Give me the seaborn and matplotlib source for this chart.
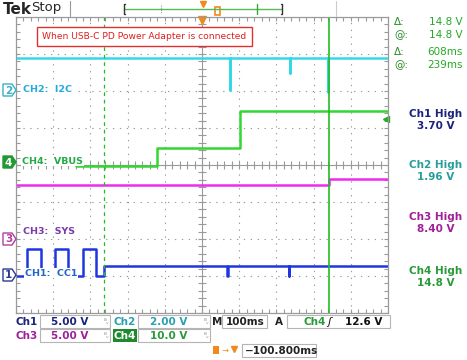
import matplotlib
matplotlib.use('Agg')
import matplotlib.pyplot as plt
import seaborn as sns
from matplotlib.patches import Rectangle, Polygon

# ─────────────────────────────────────────
# Captured traces (time in ms from screen centre, volts)
# ─────────────────────────────────────────
ch1_t = [-500, -470, -470, -433, -433, -395, -395, -360, -360, -320, -320,
         -285, -285, -263, -263, 66, 66, 69, 69, 234, 234, 234, 500]
ch1_v = [0, 0, 3.7, 3.7, 0, 0, 3.7, 3.7, 0, 0, 3.7,
         3.7, 0, 0, 1.4, 1.4, 0, 0, 1.4, 1.4, 0, 1.4, 1.4]

ch2_t = [-500, 75, 75, 75, 237, 237, 237, 339, 339, 339, 500]
ch2_v = [1.72, 1.72, 0, 1.72, 1.72, 0.9, 1.72, 1.72, -0.1, 1.72, 1.72]

ch3_t = [-500, 341, 341, 500]
ch3_v = [7.3, 7.3, 8.1, 8.1]

ch4_t = [-339, -121, -121, 102, 102, 500]
ch4_v = [0, 0, 5.0, 5.0, 14.8, 14.8]

cursor_t = [-263, 341]
trig_level = 12.6

# volts per division and ground offset (divisions)
scale = {'ch1': 5.0, 'ch2': 2.0, 'ch3': 5.0, 'ch4': 10.0}
offset = {'ch1': -3.0, 'ch2': 2.03, 'ch3': -2.0, 'ch4': -0.03}

meas_labels = ['Ch1 High', 'Ch2 High', 'Ch3 High', 'Ch4 High']
meas_values = ['3.70 V', '1.96 V', '8.40 V', '14.8 V']

C1, C2, C3, C4 = '#1f35e0', '#35d8e8', '#ee2aee', '#33d633'
grid_col = '#9a9a9a'

sns.set_style('white')
plt.rcParams['font.family'] = ['DejaVu Sans']

fig = plt.figure(figsize=(4.67, 3.6), dpi=100)
W, H = 467, 360
ax = fig.add_axes([16 / W, 1 - 313 / H, 372 / W, 296 / H])
ax.set_xlim(-500, 500)
ax.set_ylim(-4, 4)
ax.set_xticks([])
ax.set_yticks([])
for s in ax.spines.values():
    s.set_color(grid_col)
    s.set_linewidth(0.9)

# graticule
for i in range(-4, 5):
    if i != 0:
        ax.axvline(i * 100, color=grid_col, lw=0.8, ls=(0, (1.2, 5)))
for j in range(-3, 4):
    if j != 0:
        ax.axhline(j, color=grid_col, lw=0.8, ls=(0, (1.2, 5)))
ax.axvline(0, color=grid_col, lw=0.8)
ax.axhline(0, color=grid_col, lw=0.8)
xt = [k * 20 for k in range(-25, 26)]
yt = [k * 0.2 for k in range(-20, 21)]
ax.vlines(xt, -0.1, 0.1, color=grid_col, lw=0.8)
ax.hlines(yt, -10, 10, color=grid_col, lw=0.8)
ax.vlines(xt, 3.9, 4, color=grid_col, lw=0.8)
ax.vlines(xt, -4, -3.9, color=grid_col, lw=0.8)
ax.hlines(yt, -500, -490, color=grid_col, lw=0.8)
ax.hlines(yt, 490, 500, color=grid_col, lw=0.8)

# traces
def pos(vals, ch):
    return [offset[ch] + v / scale[ch] for v in vals]

sns.lineplot(x=ch2_t, y=pos(ch2_v, 'ch2'), ax=ax, color=C2, lw=1.8,
             estimator=None, sort=False)
sns.lineplot(x=ch3_t, y=pos(ch3_v, 'ch3'), ax=ax, color=C3, lw=1.8,
             estimator=None, sort=False)
sns.lineplot(x=ch4_t, y=pos(ch4_v, 'ch4'), ax=ax, color=C4, lw=1.8,
             estimator=None, sort=False)
sns.lineplot(x=ch1_t, y=pos(ch1_v, 'ch1'), ax=ax, color=C1, lw=1.8,
             estimator=None, sort=False)

# cursors
ax.axvline(cursor_t[0], color='#22bb22', lw=0.9, ls=(0, (3, 3)))
ax.axvline(cursor_t[1], color='#22bb22', lw=1.2)
ax.plot([495], [offset['ch4'] + trig_level / scale['ch4']], marker='<',
        color='#22aa22', ms=5, clip_on=False)
ax.plot([0], [3.93], marker='v', color='#f08a1e', ms=6, clip_on=False)

# ─────────────────────────────────────────
# Overlay: screen text in pixel coordinates
# ─────────────────────────────────────────
ov = fig.add_axes([0, 0, 1, 1])
ov.set_xlim(0, W)
ov.set_ylim(H, 0)
ov.axis('off')
ov.patch.set_alpha(0)

ov.text(3, 9, 'Tek', fontsize=11, fontweight='bold', va='center')
ov.text(31, 8, 'Stop', fontsize=9.5, va='center')
ov.plot([70, 70], [1, 16], color='#999999', lw=0.8)
ov.plot([336, 336], [1, 16], color='#cccccc', lw=0.8)

# record bar
ov.plot([124, 282], [9, 9], color='#55bb55', lw=1.0)
ov.plot([125, 124, 124, 125], [4, 4, 14, 14], color='#333333', lw=1.0)
ov.plot([281, 282, 282, 281], [4, 4, 14, 14], color='#333333', lw=1.0)
ov.plot([161, 161], [5, 13], color='#88aa88', lw=0.8, ls=(0, (1, 1)))
ov.plot([257, 257], [4, 14], color='#33aa33', lw=1.0)
ov.plot([203], [4], marker='v', color='#f08a1e', ms=4)
ov.add_patch(Rectangle((215, 7), 5, 8, fill=False, ec='#f08a1e', lw=1.2))

# annotation box
ov.add_patch(Rectangle((37, 27), 215, 19, fc='white', ec='#e03030', lw=1.0))
ov.text(144, 36.5, 'When USB-C PD Power Adapter is connected', color='#e02020',
        fontsize=6.6, ha='center', va='center')

# channel markers and labels
def marker(y, num, col, filled):
    pts = [(3, y - 6), (12, y - 6), (16, y), (12, y + 6), (3, y + 6)]
    ov.add_patch(Polygon(pts, closed=True, fc=col if filled else 'white',
                         ec=col, lw=1.0))
    ov.text(8.5, y + 0.5, num, color='white' if filled else col, fontsize=7.5,
            fontweight='bold', ha='center', va='center')

marker(90, '2', '#3ab0c8', False)
marker(162, '4', '#229933', True)
marker(239, '3', '#b040a0', False)
marker(275, '1', '#2a3a90', False)

lab = dict(fontsize=6.8, fontweight='bold', va='center',
           bbox=dict(fc='white', ec='none', pad=0.5))
ov.text(23, 90, 'CH2:  I2C', color='#22aadd', **lab)
ov.text(22, 161, 'CH4:  VBUS', color='#22aa44', **lab)
ov.text(23, 231, 'CH3:  SYS', color='#7a3aa8', **lab)
ov.text(25, 273, 'CH1:  CC1', color='#2266cc', **lab)

# cursor readout
for y, sym, val in [(22, 'Δ:', '14.8 V'), (35, '@:', '14.8 V'),
                    (52, 'Δ:', '608ms'), (65, '@:', '239ms')]:
    ov.text(394, y, sym, color='#2a8a2a', fontsize=7.5, va='center')
    ov.text(463, y, val, color='#22aa22', fontsize=7.5, va='center', ha='right')

# measurements
meas_cols = ['#1a237e', '#2a9d9d', '#a0209a', '#2a9a3a']
for k, (lbl, val) in enumerate(zip(meas_labels, meas_values)):
    y0 = [114, 165, 217, 271][k]
    ov.text(436, y0, lbl, color=meas_cols[k], fontsize=7.5, fontweight='bold',
            ha='center', va='center')
    ov.text(436, y0 + 12, val, color=meas_cols[k], fontsize=7.5,
            fontweight='bold', ha='center', va='center')

# bottom status
box_ec = '#b5b5b5'
bt = dict(fontsize=7.5, fontweight='bold', va='center')
for x0, x1, y0 in [(40, 110, 315), (138, 210, 315), (222, 267, 315),
                   (287, 390, 315), (40, 110, 329), (138, 210, 329),
                   (242, 316, 344)]:
    ov.add_patch(Rectangle((x0, y0), x1 - x0, 13, fc='white', ec=box_ec, lw=0.8))

ov.text(16, 322, 'Ch1', color='#1a237e', **bt)
ov.text(70, 322, '5.00 V', color='#1a237e', ha='center', **bt)
ov.text(113, 322, 'Ch2', color='#2aa0b0', **bt)
ov.text(169, 322, '2.00 V', color='#2aa0b0', ha='center', **bt)
ov.text(212, 322, 'M', color='#222222', **bt)
ov.text(245, 322, '100ms', color='#222222', ha='center', **bt)
ov.text(275, 322, 'A', color='#222222', **bt)
ov.text(303, 322, 'Ch4', color='#2a9a3a', **bt)
ov.text(327, 322, 'ʃ', color='#111111', fontsize=8, va='center', style='italic')
ov.text(382, 322, '12.6 V', color='#111111', ha='right', **bt)

ov.text(16, 336, 'Ch3', color='#a0209a', **bt)
ov.text(70, 336, '5.00 V', color='#a0209a', ha='center', **bt)
ov.add_patch(Rectangle((113, 329), 24, 13, fc='#1e8a2e', ec='none'))
ov.text(114, 336, 'Ch4', color='white', **bt)
ov.text(169, 336, '10.0 V', color='#2a9a3a', ha='center', **bt)
for x, y in [(104, 322), (204, 322), (104, 336), (204, 336)]:
    ov.text(x, y, 'ᴮᵥ', color='#999999', fontsize=5, va='center')

ov.add_patch(Rectangle((213, 346), 6, 8, fc='#f08a1e', ec='none'))
ov.text(221, 350, '→', color='#f08a1e', fontsize=6, va='center')
ov.plot([234], [349], marker='v', color='#f08a1e', ms=4)
ov.text(245, 350.5, '−100.800ms', color='#222222', **bt)

fig.savefig('out.png', dpi=100)
